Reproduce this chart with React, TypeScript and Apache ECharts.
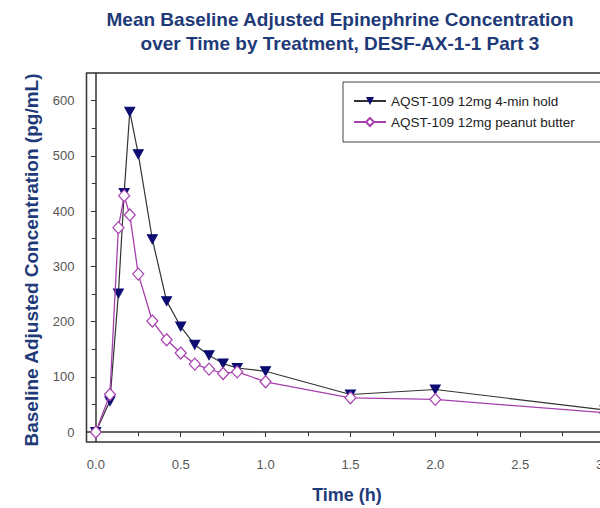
import React, { useEffect, useRef } from "react";
import * as echarts from "echarts";

const timeH = [0, 0.083, 0.133, 0.167, 0.2, 0.25, 0.333, 0.417, 0.5, 0.583, 0.667, 0.75, 0.833, 1.0, 1.5, 2.0, 3.0];
const holdValues = [0, 56, 251, 433, 580, 503, 349, 237, 191, 158, 139, 124, 116, 110, 68, 77, 40];
const peanutValues = [0, 68, 370, 428, 393, 286, 201, 167, 143, 123, 114, 106, 109, 91, 62, 59, 35];
const seriesNames = ["AQST-109 12mg 4-min hold", "AQST-109 12mg peanut butter"];
const xMajorTicks = [0, 0.5, 1.0, 1.5, 2.0, 2.5, 3.0];
const xMinorTicks = [0.25, 0.75, 1.25, 1.75, 2.25, 2.75];
const yMajorTicks = [0, 100, 200, 300, 400, 500, 600];
const yMinorTicks = [50, 150, 250, 350, 450, 550];
const titleLines = [
  "Mean Baseline Adjusted Epinephrine Concentration",
  "over Time by Treatment, DESF-AX-1-1 Part 3",
];
const xName = "Time (h)";
const yName = "Baseline Adjusted Concentration (pg/mL)";

const FONT = "'Liberation Sans', Arial, sans-serif";
const BLUE = "#1e3a78";

export default function App() {
  const ref = useRef<HTMLDivElement>(null);
  useEffect(() => {
    if (!ref.current) return;
    const chart = echarts.init(ref.current, null, { renderer: "svg" });
    const xRange = { min: -0.055, max: 3.1 };
    const yRange = { min: -18, max: 650 };
    chart.setOption({
      animation: false,
      backgroundColor: "#fff",
      textStyle: { fontFamily: FONT },
      grid: {
        left: 86.5,
        top: 73,
        right: 0,
        bottom: 66,
        show: true,
        borderColor: "#333",
        borderWidth: 1.5,
      },
      graphic: [
        {
          type: "text",
          x: 340,
          y: 19,
          style: {
            text: titleLines[0],
            textAlign: "center",
            textVerticalAlign: "middle",
            font: `bold 19px ${FONT}`,
            fill: BLUE,
          },
        },
        {
          type: "text",
          x: 340,
          y: 43,
          style: {
            text: titleLines[1],
            textAlign: "center",
            textVerticalAlign: "middle",
            font: `bold 19px ${FONT}`,
            fill: BLUE,
          },
        },
        {
          type: "text",
          x: 347,
          y: 495,
          style: {
            text: xName,
            textAlign: "center",
            textVerticalAlign: "middle",
            font: `bold 18px ${FONT}`,
            fill: BLUE,
          },
        },
        {
          type: "text",
          x: 31,
          y: 260,
          rotation: Math.PI / 2,
          style: {
            text: yName,
            textAlign: "center",
            textVerticalAlign: "middle",
            font: `bold 19px ${FONT}`,
            fill: BLUE,
          },
        },
      ],
      legend: {
        orient: "vertical",
        left: 343,
        top: 82,
        backgroundColor: "#fff",
        borderColor: "#444",
        borderWidth: 1,
        padding: [12, 60, 13, 10],
        itemGap: 7,
        itemWidth: 32,
        itemHeight: 10,
        textStyle: { fontSize: 13.5, color: "#222", fontFamily: FONT },
        data: seriesNames,
      },
      xAxis: [
        {
          type: "value",
          ...xRange,
          axisLine: { show: true, lineStyle: { color: "#333", width: 1.5 } },
          axisTick: { show: true, customValues: xMajorTicks, length: 5, lineStyle: { color: "#333" } },
          axisLabel: {
            customValues: xMajorTicks,
            formatter: (v: number) => v.toFixed(1),
            color: "#555",
            fontSize: 13,
            margin: 16,
          },
          splitLine: { show: false },
        },
        {
          type: "value",
          ...xRange,
          position: "bottom",
          offset: 0,
          axisLine: { show: false },
          axisTick: { show: true, customValues: xMinorTicks, length: 4, lineStyle: { color: "#333" } },
          axisLabel: { show: false },
          splitLine: { show: false },
        },
      ],
      yAxis: [
        {
          type: "value",
          ...yRange,
          axisLine: { show: true, lineStyle: { color: "#333", width: 1.5 } },
          axisTick: { show: true, customValues: yMajorTicks, length: 5, lineStyle: { color: "#333" } },
          axisLabel: {
            customValues: yMajorTicks,
            color: "#555",
            fontSize: 13,
            margin: 12,
          },
          splitLine: { show: false },
        },
        {
          type: "value",
          ...yRange,
          position: "left",
          offset: 0,
          axisLine: { show: false },
          axisTick: { show: true, customValues: yMinorTicks, length: 4, lineStyle: { color: "#333" } },
          axisLabel: { show: false },
          splitLine: { show: false },
        },
      ],
      series: [
        {
          name: seriesNames[0],
          type: "line",
          xAxisIndex: 0,
          yAxisIndex: 0,
          data: timeH.map((t, i) => [t, holdValues[i]]),
          symbol: "triangle",
          symbolRotate: 180,
          symbolSize: [10, 9],
          itemStyle: { color: "#0b0b72", borderColor: "#0b0b72" },
          lineStyle: { color: "#333", width: 1.2 },
          z: 2,
        },
        {
          name: seriesNames[1],
          type: "line",
          xAxisIndex: 0,
          yAxisIndex: 0,
          data: timeH.map((t, i) => [t, peanutValues[i]]),
          symbol: "diamond",
          symbolSize: [11, 12],
          itemStyle: { color: "#fff", borderColor: "#a63fae", borderWidth: 1.2 },
          lineStyle: { color: "#a63fae", width: 1.3 },
          z: 3,
        },
      ],
    });
    return () => chart.dispose();
  }, []);
  return (
    <div style={{ position: "fixed", left: 0, top: 0, width: 600, height: 508, overflow: "hidden", background: "#fff" }}>
      <div ref={ref} style={{ width: 622, height: 508 }} />
    </div>
  );
}
